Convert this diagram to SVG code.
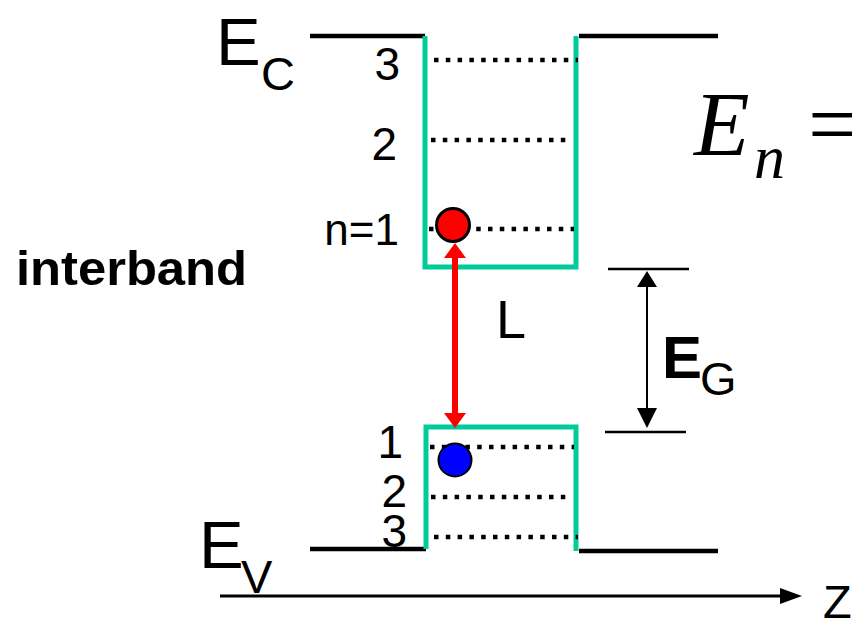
<svg xmlns="http://www.w3.org/2000/svg" width="852" height="620" viewBox="0 0 852 620">
<style>
.band{stroke:#000;stroke-width:4.5;fill:none}
.well{stroke:#00CC99;stroke-width:5;fill:none}
.dot{stroke:#000;stroke-width:4.5;stroke-dasharray:4.5 7.3;fill:none}
.t{font-family:"Liberation Sans",Arial,sans-serif;fill:#000}
</style>
<rect width="852" height="620" fill="#fff"/>
<g id="conduction-band">
<line class="band" x1="310" y1="36" x2="425" y2="36"/>
<line class="band" x1="579" y1="36" x2="718" y2="36"/>
<polyline class="well" points="425,36 425,267 576,267 576,36"/>
<line class="dot" x1="434" y1="60" x2="578" y2="60"/>
<line class="dot" x1="431" y1="140" x2="568" y2="140"/>
<line class="dot" x1="429" y1="229" x2="574" y2="229"/>
</g>
<g id="valence-band">
<line class="band" x1="310" y1="549" x2="426" y2="549"/>
<line class="band" x1="579" y1="551" x2="718" y2="551"/>
<polyline class="well" points="426,549 426,427 576,427 576,551"/>
<line class="dot" x1="430" y1="447" x2="574" y2="447"/>
<line class="dot" x1="431" y1="497" x2="568" y2="497"/>
<line class="dot" x1="434" y1="537" x2="578" y2="537"/>
</g>
<g id="connectors">
<line x1="455" y1="250" x2="455" y2="420" stroke="#f00" stroke-width="6"/>
<polygon points="455,243 466,258 444,258" fill="#f00"/>
<polygon points="455,428 444,413 466,413" fill="#f00"/>
<line x1="608" y1="269" x2="689" y2="269" stroke="#000" stroke-width="2.5"/>
<line x1="605" y1="432" x2="686" y2="432" stroke="#000" stroke-width="2.5"/>
<line x1="647" y1="275" x2="647" y2="425" stroke="#000" stroke-width="2"/>
<polygon points="647,271 657,287 637,287" fill="#000"/>
<polygon points="647,428 637,408 657,408" fill="#000"/>
<line x1="220" y1="596" x2="785" y2="596" stroke="#000" stroke-width="3"/>
<polygon points="802,596 780,588 780,604" fill="#000"/>
</g>
<g id="electron">
<circle cx="453" cy="225" r="16.5" fill="#f00" stroke="#000" stroke-width="3"/>
</g>
<g id="hole">
<circle cx="455" cy="460" r="16.5" fill="#00f" stroke="#000" stroke-width="2"/>
</g>
<g id="labels">
<text class="t" x="216" y="65" font-size="67">E</text>
<text class="t" x="261" y="90" font-size="47">C</text>
<text class="t" x="199" y="568" font-size="67">E</text>
<text class="t" x="241" y="593" font-size="47">V</text>
<text class="t" x="400" y="80" font-size="46" text-anchor="end">3</text>
<text class="t" x="397" y="160" font-size="46" text-anchor="end">2</text>
<text class="t" x="399" y="245" font-size="44" text-anchor="end">n=1</text>
<text class="t" x="403" y="458" font-size="46" text-anchor="end">1</text>
<text class="t" x="407" y="507" font-size="46" text-anchor="end">2</text>
<text class="t" x="407" y="547" font-size="46" text-anchor="end">3</text>
<text class="t" x="496" y="338" font-size="54">L</text>
<text class="t" x="662" y="378" font-size="60" font-weight="bold">E</text>
<text class="t" x="700" y="395" font-size="47">G</text>
<text class="t" x="823" y="618" font-size="47">Z</text>
<text class="t" x="16" y="285" font-size="48" font-weight="bold" textLength="231" lengthAdjust="spacingAndGlyphs">interband</text>
<text x="694" y="155" font-size="91" font-style="italic" font-family="'Liberation Serif','Times New Roman',serif">E</text>
<text x="754" y="178" font-size="62" font-style="italic" font-family="'Liberation Serif','Times New Roman',serif">n</text>
<text x="808" y="155" font-size="91" font-family="'Liberation Serif','Times New Roman',serif">=</text>
</g>
</svg>
